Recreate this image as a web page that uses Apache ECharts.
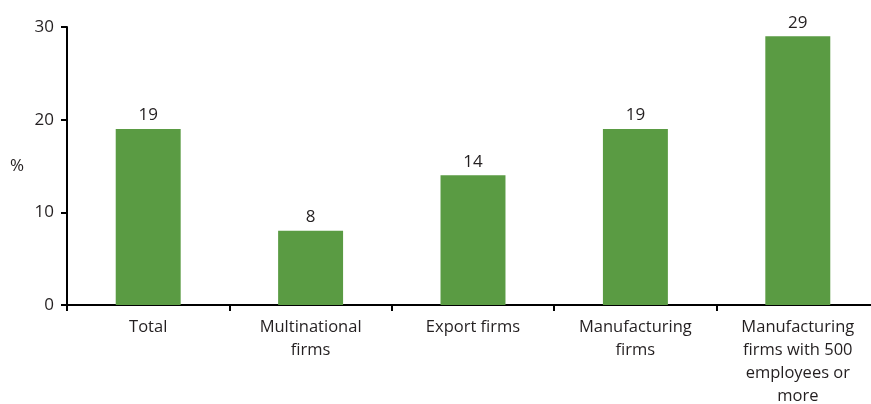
<!DOCTYPE html>
<html>
<head>
<meta charset="utf-8">
<script src="https://cdn.jsdelivr.net/npm/echarts@6/dist/echarts.min.js"></script>
<style>
  html, body { margin: 0; padding: 0; background: #fff; }
  #chart { width: 871px; height: 404px; }
</style>
</head>
<body>
<div id="chart"></div>
<script>
// Share of firms by group (%)
const categories = [
  'Total',
  'Multinational\nfirms',
  'Export firms',
  'Manufacturing\nfirms',
  'Manufacturing\nfirms with 500\nemployees or\nmore'
];
const values = [19, 8, 14, 19, 29];
const yTicks = { min: 0, max: 30, interval: 10 };

const FONT = '"Open Sans", "Noto Sans", sans-serif';
const TEXT = '#231f20';

const chart = echarts.init(document.getElementById('chart'), null, { renderer: 'canvas' });
chart.setOption({
  animation: false,
  backgroundColor: '#ffffff',
  grid: {
    left: 67, top: 27, right: -8, bottom: 99,
    containLabel: false,
    outerBoundsMode: 'none'
  },
  xAxis: {
    type: 'category',
    data: categories,
    axisLine: { lineStyle: { color: '#000', width: 2 } },
    axisTick: { show: true, length: 6, lineStyle: { color: '#000', width: 2 }, alignWithLabel: false },
    axisLabel: {
      color: TEXT, fontFamily: FONT, fontSize: 16.5, lineHeight: 23,
      margin: 11, interval: 0
    }
  },
  yAxis: {
    type: 'value',
    min: yTicks.min, max: yTicks.max, interval: yTicks.interval,
    name: '%',
    nameLocation: 'middle',
    nameRotate: 0,
    nameGap: 43,
    nameTextStyle: { color: TEXT, fontFamily: FONT, fontSize: 17 },
    axisLine: { show: true, lineStyle: { color: '#000', width: 2 } },
    axisTick: { show: true, length: 6, lineStyle: { color: '#000', width: 2 } },
    axisLabel: { color: TEXT, fontFamily: FONT, fontSize: 17, margin: 13 },
    splitLine: { show: false }
  },
  series: [{
    type: 'bar',
    data: values,
    barWidth: '40%',
    itemStyle: { color: '#5a9b43' },
    label: {
      show: true, position: 'top', distance: 5,
      color: TEXT, fontFamily: FONT, fontSize: 17
    }
  }]
});
</script>
</body>
</html>
